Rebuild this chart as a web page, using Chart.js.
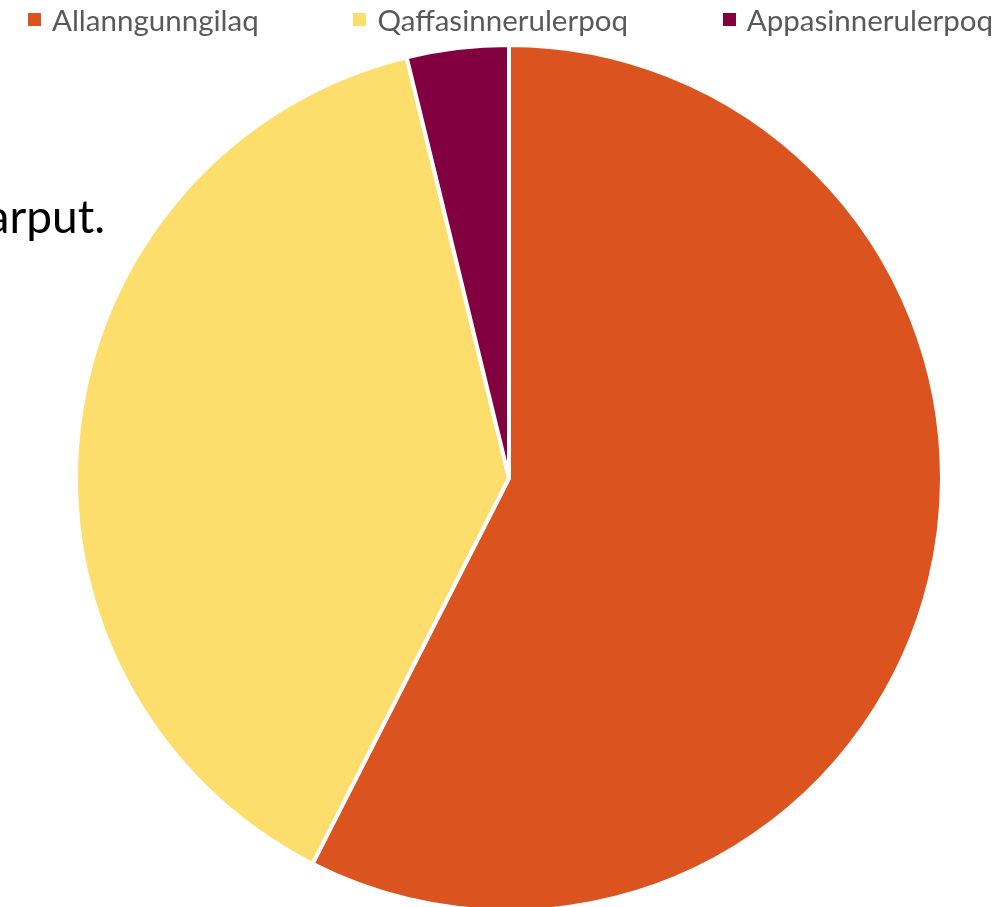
<!DOCTYPE html>
<html>
<head>
<meta charset="utf-8">
<script src="https://cdn.jsdelivr.net/npm/chart.js@4"></script>
<style>
  html, body { margin: 0; padding: 0; background: #fff; overflow: hidden; }
  #wrap { position: relative; width: 996px; height: 913px; }
  #legend { position: absolute; left: 28px; right: 3px; top: 0; height: 38px;
            display: flex; justify-content: space-between; align-items: center;
            font-family: Lato, sans-serif; font-size: 29.5px; color: #595959; }
  #legend span.item { display: flex; align-items: center; white-space: nowrap; }
  #legend span.box { width: 13px; height: 13px; margin-right: 11px; display: inline-block; }
  #note { position: absolute; left: -40px; width: 145px; top: 188px; text-align: right;
          font-family: Lato, sans-serif; font-size: 46px; color: #000; white-space: nowrap; }
</style>
</head>
<body>
<div id="wrap">
  <canvas id="pieChart" width="996" height="913"></canvas>
  <div id="legend"></div>
  <div id="note">arput.</div>
</div>
<script>
// DATA
var labels = ["Allanngunngilaq", "Qaffasinnerulerpoq", "Appasinnerulerpoq"];
var values = [57.5, 38.7, 3.8];
var colors = ["#DB5420", "#FDDD6C", "#820040"];

var ctx = document.getElementById("pieChart").getContext('2d');

var pieChart = new Chart(ctx, {
    type: 'pie',
    data: {
        labels: labels,
        datasets: [{
            data: values,
            backgroundColor: colors,
            borderColor: '#ffffff',
            borderWidth: 4
        }]
    },
    options: {
        animation: false,
        responsive: false,
        layout: {
            padding: { top: 43, left: 22, right: 0, bottom: 0 }
        },
        plugins: {
            legend: { display: false },
            tooltip: { enabled: false }
        }
    }
});

//HTML LEGEND FROM CHART DATA
var legendEl = document.getElementById("legend");
pieChart.data.labels.forEach(function(lbl, i) {
    var item = document.createElement("span");
    item.className = "item";
    var box = document.createElement("span");
    box.className = "box";
    box.style.background = pieChart.data.datasets[0].backgroundColor[i];
    item.appendChild(box);
    item.appendChild(document.createTextNode(lbl));
    legendEl.appendChild(item);
});
</script>
</body>
</html>
